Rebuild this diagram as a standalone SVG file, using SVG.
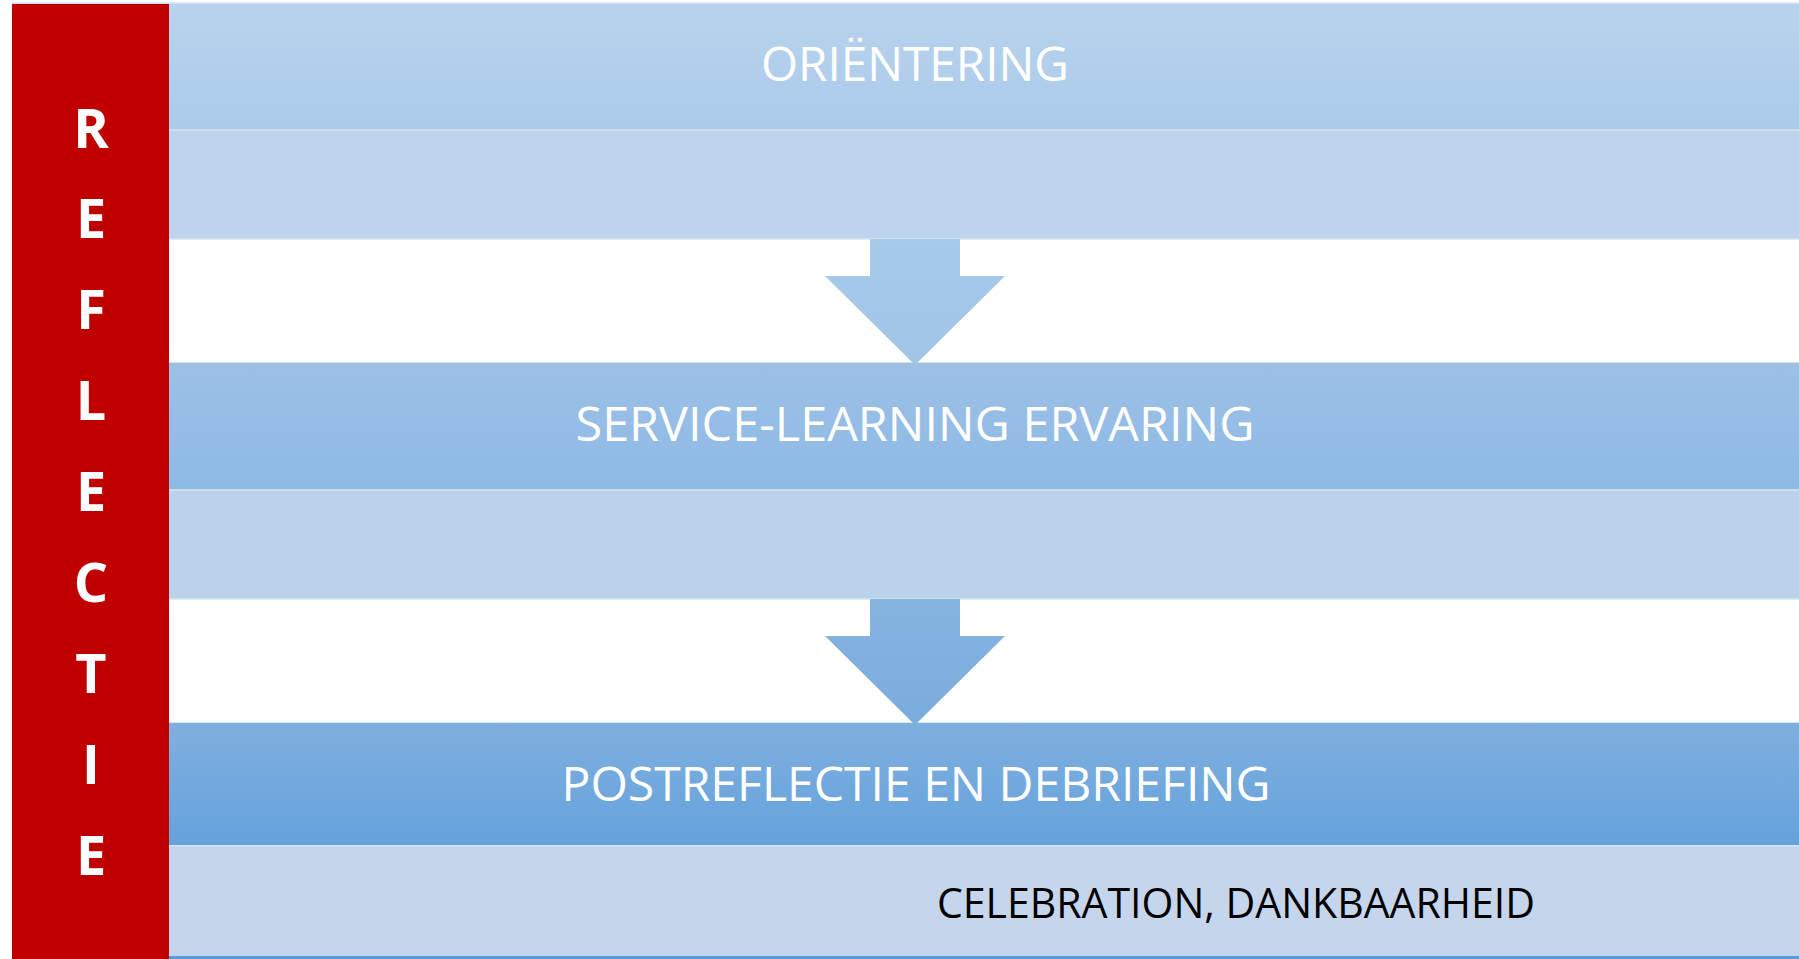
<svg xmlns="http://www.w3.org/2000/svg" width="1799" height="959" viewBox="0 0 1799 959">
  <defs>
    <linearGradient id="g1" x1="0" y1="0" x2="0" y2="1">
      <stop offset="0" stop-color="#b8d3ed"/>
      <stop offset="1" stop-color="#abcbea"/>
    </linearGradient>
    <linearGradient id="g2" x1="0" y1="0" x2="0" y2="1">
      <stop offset="0" stop-color="#9dc0e5"/>
      <stop offset="1" stop-color="#8dbae6"/>
    </linearGradient>
    <linearGradient id="g3" x1="0" y1="0" x2="0" y2="1">
      <stop offset="0" stop-color="#7fafdf"/>
      <stop offset="1" stop-color="#65a3dc"/>
    </linearGradient>
    <linearGradient id="ga1" x1="0" y1="0" x2="0" y2="1">
      <stop offset="0" stop-color="#a7c9ea"/>
      <stop offset="1" stop-color="#a2c4e7"/>
    </linearGradient>
    <linearGradient id="ga2" x1="0" y1="0" x2="0" y2="1">
      <stop offset="0" stop-color="#86b4e1"/>
      <stop offset="1" stop-color="#7aacdc"/>
    </linearGradient>
  </defs>
  <style>
    .sep { stroke: #d6e4f3; stroke-width: 1.5; }
    .head { font-family: "Open Sans", "Liberation Sans", sans-serif; font-size: 47px; fill: #ffffff; text-anchor: middle; }
    .sub { font-family: "Open Sans", "Liberation Sans", sans-serif; font-size: 42px; fill: #000000; }
    .vert { font-family: "Open Sans", "Liberation Sans", sans-serif; font-size: 54px; font-weight: bold; fill: #ffffff; text-anchor: middle; }
  </style>
  <rect width="1799" height="959" fill="#ffffff"/>

  <g id="orientering">
    <rect x="12" y="3" width="1787" height="127" fill="url(#g1)"/>
    <rect x="12" y="130" width="1787" height="109" fill="#bed4ec"/>
    <line class="sep" x1="12" y1="3" x2="1799" y2="3"/>
    <line class="sep" x1="12" y1="130" x2="1799" y2="130"/>
    <line class="sep" x1="12" y1="239" x2="1799" y2="239"/>
    <text class="head" x="915" y="81" textLength="308" lengthAdjust="spacingAndGlyphs">ORIËNTERING</text>
  </g>

  <g id="service-learning">
    <rect x="12" y="362.5" width="1787" height="127.5" fill="url(#g2)"/>
    <rect x="12" y="490" width="1787" height="109" fill="#bbd2eb"/>
    <line class="sep" x1="12" y1="490" x2="1799" y2="490"/>
    <line class="sep" x1="12" y1="599" x2="1799" y2="599"/>
    <text class="head" x="915" y="441" textLength="679" lengthAdjust="spacingAndGlyphs">SERVICE-LEARNING ERVARING</text>
  </g>

  <g id="postreflectie">
    <rect x="12" y="722.7" width="1787" height="123" fill="url(#g3)"/>
    <rect x="12" y="845.7" width="1787" height="110.3" fill="#c5d6ec"/>
    <rect x="12" y="956" width="1787" height="3" fill="#5b9bd5"/>
    <line class="sep" x1="12" y1="845.7" x2="1799" y2="845.7"/>
    <text class="head" x="916" y="801" textLength="709" lengthAdjust="spacingAndGlyphs">POSTREFLECTIE EN DEBRIEFING</text>
    <text class="sub" x="937" y="918" textLength="598" lengthAdjust="spacingAndGlyphs">CELEBRATION, DANKBAARHEID</text>
  </g>

  <g id="connectors">
    <polygon points="870,239 960,239 960,276 1005,276 915,365 825,276 870,276" fill="url(#ga1)"/>
    <polygon points="870,599 960,599 960,636 1005,636 915,725 825,636 870,636" fill="url(#ga2)"/>
  </g>

  <g id="reflectie">
    <rect x="12" y="4" width="157" height="955" fill="#c00000"/>
    <text class="vert" x="91" y="148">R</text>
    <text class="vert" x="91" y="238">E</text>
    <text class="vert" x="91" y="329">F</text>
    <text class="vert" x="91" y="420">L</text>
    <text class="vert" x="91" y="511">E</text>
    <text class="vert" x="91" y="602">C</text>
    <text class="vert" x="91" y="693">T</text>
    <text class="vert" x="91" y="784">I</text>
    <text class="vert" x="91" y="875">E</text>
  </g>
</svg>
